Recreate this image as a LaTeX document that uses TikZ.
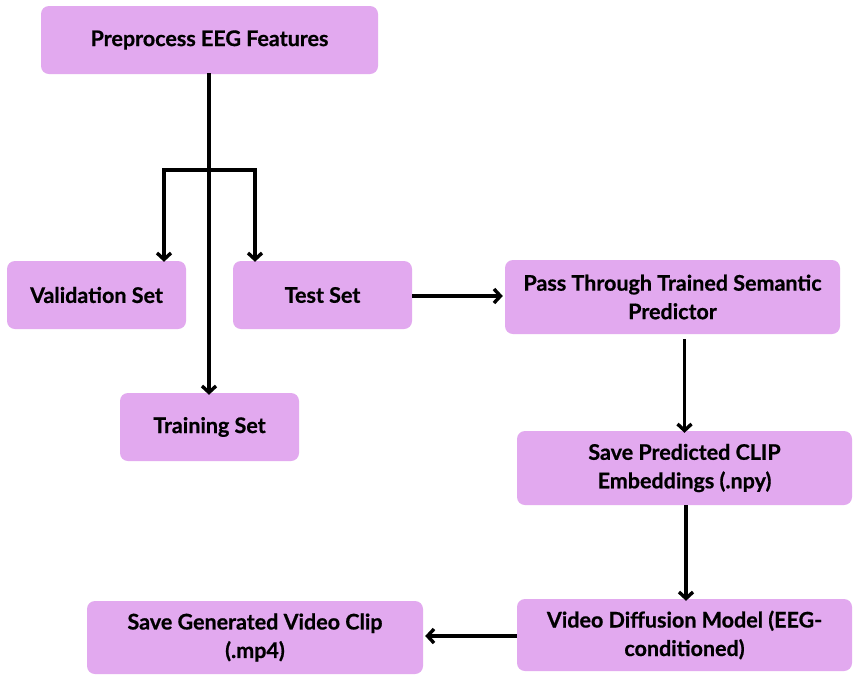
\documentclass[tikz,border=0pt]{standalone}
\usepackage{fontspec}
\setmainfont{Lato}[BoldFeatures={FakeBold=0.7}]
\usetikzlibrary{arrows.meta}
\definecolor{boxfill}{HTML}{E2A9EF}
\begin{document}
\begin{tikzpicture}[x=1pt,y=-1pt,
  box/.style={fill=boxfill, rounded corners=8pt, inner sep=0pt, align=center,
    font=\fontsize{21.5}{28.5}\selectfont\bfseries, text=black},
  conn/.style={line width=3.4pt, draw=black},
  arr/.style={conn, -{Straight Barb[length=6.5pt,width=14pt]}}]
\useasboundingbox (0,0) rectangle (861,681);
\fill[white] (0,0) rectangle (861,681);
\node[box, minimum width=337pt, minimum height=68pt] (pre) at (209.5,40) {Preprocess EEG Features};
\node[box, minimum width=179pt, minimum height=68pt] (val) at (96.5,295) {Validation Set};
\node[box, minimum width=179pt, minimum height=68pt] (test) at (322.5,295) {Test Set};
\node[box, minimum width=179pt, minimum height=68pt] (train) at (209.5,427) {Training Set};
\node[box, minimum width=335pt, minimum height=74pt] (pass) at (672.5,297) {Pass Through Trained Semantic\\Predictor};
\node[box, minimum width=335pt, minimum height=74pt] (clip) at (684.5,468) {Save Predicted CLIP\\Embeddings (.npy)};
\node[box, minimum width=335pt, minimum height=72pt] (vdm) at (684.5,635) {Video Diffusion Model (EEG-\\conditioned)};
\node[box, minimum width=336pt, minimum height=73pt] (gen) at (255,637.5) {Save Generated Video Clip\\(.mp4)};
\coordinate (split) at (209,170);
\draw[arr] ([yshift=1pt]pre.south -| split) -- ([yshift=-2pt]train.north -| split);
\draw[arr] (split) -| ([yshift=-1pt]val.north -| 164,0);
\draw[arr] (split) -| ([yshift=-1pt]test.north -| 255,0);
\draw[arr] (test.east |- 0,296) -- ([xshift=-2pt]pass.west |- 0,296);
\draw[arr] ([yshift=-5pt]pass.south -| clip.north) -- ([yshift=-2pt]clip.north);
\draw[arr] ([xshift=1.5pt]clip.south) -- ([xshift=1.5pt,yshift=-2pt]vdm.north);
\draw[arr] (vdm.west |- 0,636) -- ([xshift=2pt]gen.east |- 0,636);
\end{tikzpicture}
\end{document}
